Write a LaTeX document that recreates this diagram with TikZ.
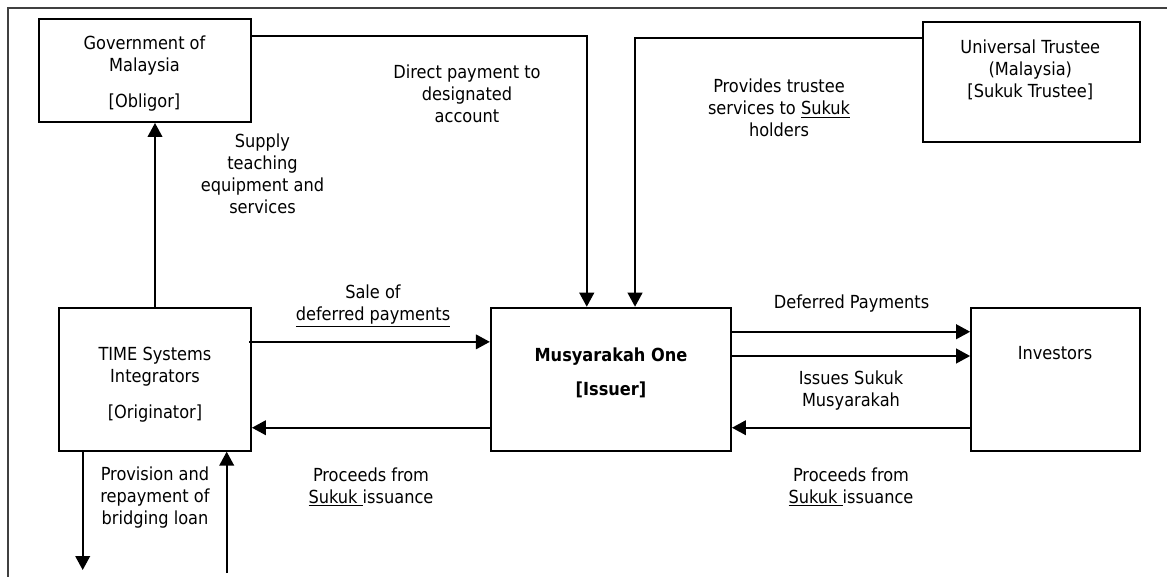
\documentclass[tikz,border=0pt]{standalone}
\usepackage{fontspec}
\setmainfont{DejaVu Sans Condensed}
\usepackage{tikz}
\usetikzlibrary{arrows.meta}

\tikzset{
  box/.style={draw, line width=1.4pt, inner sep=0pt},
  txt/.style={align=center, inner sep=0pt, font=\fontsize{13.5}{16.5}\selectfont},
  arr/.style={line width=1.4pt, -{Triangle[length=10.5pt,width=11pt]}},
}

\begin{document}
\begin{tikzpicture}[x=0.75pt,y=0.75pt,yscale=-1,xscale=1]
\useasboundingbox (0,0) rectangle (1167,577);

%Frame
\draw [line width=0.8pt, black!75] (8,577) -- (8,8) -- (1167,8);

%Boxes
\node [box, minimum width=159.2pt, minimum height=77.3pt] (gov) at (144.9,70.5) {};
\node [box, minimum width=162.8pt, minimum height=90pt] (trustee) at (1031.2,81.7) {};
\node [box, minimum width=144pt, minimum height=107.3pt] (time) at (155,379.2) {};
\node [box, minimum width=180.2pt, minimum height=107.3pt] (issuer) at (610.9,379.2) {};
\node [box, minimum width=126.5pt, minimum height=107.3pt] (investors) at (1055.4,379.2) {};

%Loose ends
\coordinate (loan-out) at (82.7,570);
\coordinate (loan-in) at (226.7,573);

%Straight Lines
\draw [arr] (time.north) -- (time.north |- gov.south);
\draw [arr] ([yshift=13.7pt]gov.north east) -| ([xshift=-18.1pt]issuer.north);
\draw [arr] ([yshift=13.2pt]trustee.north west) -| ([xshift=18.1pt]issuer.north);
\draw [arr] ([yshift=-28pt,xshift=-2pt]time.east) -- ([yshift=-28pt]issuer.west);
\draw [arr] ([yshift=36.4pt]issuer.west) -- ([yshift=36.4pt]time.east);
\draw [arr] ([yshift=-35.6pt]issuer.east) -- ([yshift=-35.6pt]investors.west);
\draw [arr] ([yshift=-17.4pt]issuer.east) -- ([yshift=-17.4pt]investors.west);
\draw [arr] ([yshift=36.4pt]investors.west) -- ([yshift=36.4pt]issuer.east);
\draw [arr] (time.south -| loan-out) -- (loan-out);
\draw [arr] (loan-in) -- (time.south -| loan-in);

% Text Node
\node [txt] (gov-t) at (144.5,73.5) {Government of\\Malaysia\\[10.5pt]{[Obligor]}};
% Text Node
\node [txt] (trustee-t) at (1030.3,70) {Universal Trustee\\(Malaysia)\\{[Sukuk Trustee]}};
% Text Node
\node [txt] (time-t) at (155,385) {TIME Systems\\Integrators\\[10.5pt]{[Originator]}};
% Text Node
\node [txt, font=\fontsize{13.5}{16.5}\selectfont\bfseries] (issuer-t) at (611,373) {Musyarakah One\\[9pt]{[Issuer]}};
% Text Node
\node [txt] (investors-t) at (1055,353) {Investors};
% Text Node
\node [txt] (supply) at (262.5,174) {Supply\\teaching\\equipment and\\services};
% Text Node
\node [txt] (direct) at (467,94) {Direct payment to\\designated\\account};
% Text Node
\node [txt] (provides) at (779,108) {Provides trustee\\services to \underline{Sukuk}\\holders};
% Text Node
\node [txt] (sale) at (373,306) {Sale of\\\underline{deferred payments}};
% Text Node
\node [txt] (proceeds-l) at (371,487) {Proceeds from\\\underline{Sukuk\ }issuance};
% Text Node
\node [txt] (deferred) at (851.5,304) {Deferred Payments};
% Text Node
\node [txt] (issues) at (851,391) {Issues Sukuk\\Musyarakah};
% Text Node
\node [txt] (proceeds-r) at (851,487) {Proceeds from\\\underline{Sukuk\ }issuance};
% Text Node
\node [txt] (provision) at (155,498) {Provision and\\repayment of\\bridging loan};

\end{tikzpicture}
\end{document}
